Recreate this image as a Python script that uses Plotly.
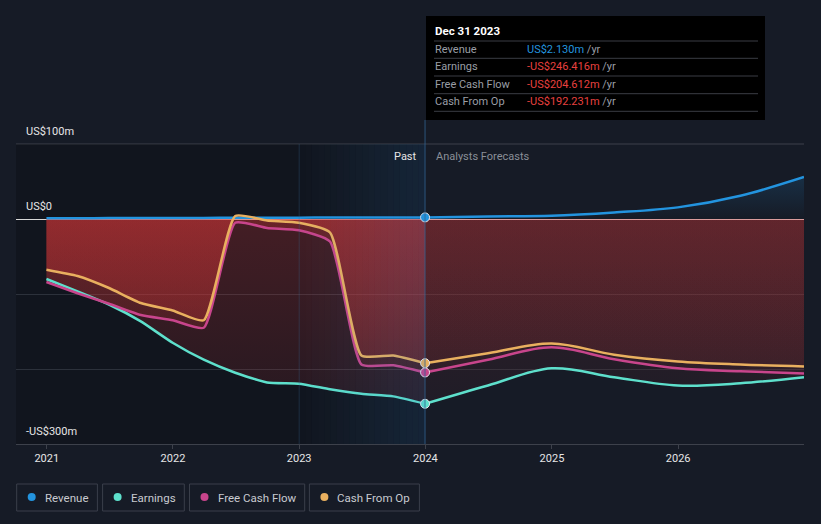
import plotly.graph_objects as go
import pandas as pd

# ---------------- data ----------------
past_dates = ['2020-12-31', '2021-03-31', '2021-06-30', '2021-09-30', '2021-12-31',
              '2022-03-31', '2022-06-30', '2022-09-30', '2022-12-31', '2023-03-31',
              '2023-06-30', '2023-09-30', '2023-12-31']
revenue_past = [1.0, 1.1, 1.2, 1.3, 1.4, 1.5, 1.6, 1.7, 1.8, 1.9, 2.0, 2.05, 2.13]
earnings_past = [-80, -96.5, -114, -136.5, -165, -187.6, -205, -218, -219.6, -227, -233, -236.5, -246.416]
fcf_past = [-84, -99, -113, -128, -135, -145, -5, -12, -15, -30, -194, -195, -204.612]
cfo_past = [-67.6, -76, -92, -112, -122, -135, 4, -2, -5, -18, -182, -182, -192.231]

fc_dates = ['2023-12-31', '2024-06-30', '2024-12-31', '2025-06-30', '2025-12-31', '2026-06-30', '2026-12-31']
revenue_fc = [2.13, 3.5, 4.4, 8.8, 15.5, 31, 56]
earnings_fc = [-246.416, -222, -199, -211, -222, -219, -211]
fcf_fc = [-204.612, -187.6, -171, -187, -199, -203, -206]
cfo_fc = [-192.231, -179, -166, -181, -190, -194, -196.5]

year_ticks = ['2021-01-01', '2022-01-01', '2023-01-01', '2024-01-01', '2025-01-01', '2026-01-01']
year_labels = ['2021', '2022', '2023', '2024', '2025', '2026']

tip_title = 'Dec 31 2023'
tip_rows = [('Revenue', 'US$2.130m', '#2394df'),
            ('Earnings', '-US$246.416m', '#e8403f'),
            ('Free Cash Flow', '-US$204.612m', '#e8403f'),
            ('Cash From Op', '-US$192.231m', '#e8403f')]

legend_items = [('Revenue', '#2394df'), ('Earnings', '#5ee0cc'),
                ('Free Cash Flow', '#c8458c'), ('Cash From Op', '#e9b05f')]

C_REV, C_EARN, C_FCF, C_CFO = '#2394df', '#5ee0cc', '#c8458c', '#e9b05f'

# ---------------- layout geometry ----------------
W, H = 821, 524
L, R, T, B = 16, 17, 120, 80
PW, PH = W - L - R, H - T - B
BG = '#161b26'
FONT = 'Roboto'


def px(xp):
    return (xp - L) / PW


def py(yp):
    return (H - B - yp) / PH


def red_grad(a_top, a_bot):
    return dict(type='vertical', start=-300, stop=0,
                colorscale=[[0, f'rgba(220,55,55,{a_bot})'], [1, f'rgba(220,55,55,{a_top})']])


fig = go.Figure()

# fills (drawn first)
fill_specs = [
    (past_dates, earnings_past, red_grad(0.25, 0.08), 0.5),
    (past_dates, fcf_past, red_grad(0.25, 0.05), 0.5),
    (past_dates, cfo_past, red_grad(0.35, 0.08), 0.5),
    (fc_dates, earnings_fc, red_grad(0.14, 0.03), 1.0),
    (fc_dates, fcf_fc, red_grad(0.14, 0.03), 1.0),
    (fc_dates, cfo_fc, red_grad(0.16, 0.03), 1.0),
]
for xs, ys, grad, sm in fill_specs:
    fig.add_trace(go.Scatter(x=xs, y=ys, mode='lines', line=dict(width=0, shape='spline', smoothing=sm),
                             fill='tozeroy', fillgradient=grad, hoverinfo='skip', showlegend=False))

for xs, ys, sm in [(past_dates, revenue_past, 0.5), (fc_dates, revenue_fc, 1.0)]:
    fig.add_trace(go.Scatter(x=xs, y=ys, mode='lines', line=dict(width=0, shape='spline', smoothing=sm),
                             fill='tozeroy',
                             fillgradient=dict(type='vertical', start=0, stop=60,
                                               colorscale=[[0, 'rgba(35,148,223,0.0)'], [1, 'rgba(35,148,223,0.18)']]),
                             hoverinfo='skip', showlegend=False))

# lines
for name, c, p, f in [('Revenue', C_REV, revenue_past, revenue_fc),
                      ('Earnings', C_EARN, earnings_past, earnings_fc),
                      ('Free Cash Flow', C_FCF, fcf_past, fcf_fc),
                      ('Cash From Op', C_CFO, cfo_past, cfo_fc)]:
    fig.add_trace(go.Scatter(x=past_dates, y=p, mode='lines', name=name,
                             line=dict(color=c, width=2.5, shape='spline', smoothing=0.5), showlegend=False))
    fig.add_trace(go.Scatter(x=fc_dates, y=f, mode='lines', name=name,
                             line=dict(color=c, width=2.5, shape='spline', smoothing=1.0), showlegend=False))

# markers at the last reported point
for c, p in [(C_REV, revenue_past), (C_EARN, earnings_past), (C_FCF, fcf_past), (C_CFO, cfo_past)]:
    fig.add_trace(go.Scatter(x=[past_dates[-1]], y=[p[-1]], mode='markers',
                             marker=dict(color=c, size=9, line=dict(color='#e8e8ee', width=1)),
                             showlegend=False, hoverinfo='skip'))

shapes = []
# darker past region
shapes.append(dict(type='rect', xref='x', yref='y', x0='2020-10-04', x1='2023-12-31', y0=-300, y1=100,
                   fillcolor='rgba(0,0,0,0.2)', line=dict(width=0), layer='below'))
# blue highlight band 2023-2024 (stepped gradient)
edges = pd.date_range('2023-01-01', '2023-12-31', periods=21)
for i in range(20):
    a = 0.15 * (i + 1) / 20
    shapes.append(dict(type='rect', xref='x', yref='y', x0=edges[i], x1=edges[i + 1], y0=-300, y1=100,
                       fillcolor=f'rgba(50,130,200,{a:.3f})', line=dict(width=0), layer='above'))
shapes.append(dict(type='line', xref='x', yref='y', x0='2023-01-01', x1='2023-01-01', y0=-300, y1=100,
                   line=dict(color='rgba(60,110,150,0.3)', width=1), layer='above'))
# top gridline
shapes.append(dict(type='line', xref='paper', yref='y', x0=0, x1=1, y0=100, y1=100,
                   line=dict(color='#3d414b', width=1), layer='below'))
# vertical line at the latest reported date
shapes.append(dict(type='line', xref='x', yref='paper', x0='2023-12-31', x1='2023-12-31', y0=0, y1=1,
                   line=dict(color='rgba(50,100,145,0.8)', width=1), layer='above'))

# tooltip box
shapes.append(dict(type='rect', xref='paper', yref='paper', x0=px(426), x1=px(765), y0=py(120), y1=py(16),
                   fillcolor='#000000', line=dict(width=0), layer='above'))
for sy in [41, 58.3, 76, 93.7, 111.3]:
    shapes.append(dict(type='line', xref='paper', yref='paper', x0=px(434), x1=px(758), y0=py(sy), y1=py(sy),
                       line=dict(color='#3a3d44', width=1), layer='above'))

# legend boxes
legend_boxes = [(16.7, 97.4), (102.6, 184.3), (189.5, 304.7), (309.4, 419.4)]
for (x0, x1), (lab, c) in zip(legend_boxes, legend_items):
    shapes.append(dict(type='rect', xref='paper', yref='paper', x0=px(x0), x1=px(x1), y0=py(511), y1=py(484),
                       fillcolor='rgba(0,0,0,0)', line=dict(color='#3a3f4a', width=1), layer='above'))
    shapes.append(dict(type='circle', xref='paper', yref='paper', x0=px(x0 + 11), x1=px(x0 + 19),
                       y0=py(501), y1=py(493), fillcolor=c, line=dict(width=0), layer='above'))

annotations = []
# y labels
for val, txt in [(100, 'US$100m'), (0, 'US$0'), (-300, '-US$300m')]:
    annotations.append(dict(xref='paper', yref='y', x=px(24), y=val, text=txt, showarrow=False,
                            xanchor='left', yanchor='bottom', yshift=4,
                            font=dict(family=FONT, size=11, color='#e6e6e6')))
annotations.append(dict(xref='paper', yref='paper', x=px(419), y=py(156), text='Past', showarrow=False,
                        xanchor='right', yanchor='middle', font=dict(family=FONT, size=11, color='#e6e6e6')))
annotations.append(dict(xref='paper', yref='paper', x=px(434), y=py(156), text='Analysts Forecasts',
                        showarrow=False, xanchor='left', yanchor='middle',
                        font=dict(family=FONT, size=11, color='#8a8f98')))
# tooltip text
annotations.append(dict(xref='paper', yref='paper', x=px(433), y=py(31), text='<b>' + tip_title + '</b>',
                        showarrow=False, xanchor='left', yanchor='middle',
                        font=dict(family=FONT, size=11.5, color='#ffffff')))
for (lab, val, c), ry in zip(tip_rows, [49.3, 66.7, 84.3, 101.7]):
    annotations.append(dict(xref='paper', yref='paper', x=px(433), y=py(ry), text=lab, showarrow=False,
                            xanchor='left', yanchor='middle', font=dict(family=FONT, size=11, color='#9a9ea6')))
    annotations.append(dict(xref='paper', yref='paper', x=px(525), y=py(ry),
                            text=f"<span style='color:{c}'>{val}</span> /yr", showarrow=False,
                            xanchor='left', yanchor='middle', font=dict(family=FONT, size=11, color='#9a9ea6')))
# legend text
for (x0, x1), (lab, c) in zip(legend_boxes, legend_items):
    annotations.append(dict(xref='paper', yref='paper', x=px(x0 + 26), y=py(497.5), text=lab, showarrow=False,
                            xanchor='left', yanchor='middle', font=dict(family=FONT, size=11.5, color='#c8cad0')))

fig.update_layout(
    width=W, height=H, margin=dict(l=L, r=R, t=T, b=B),
    paper_bgcolor=BG, plot_bgcolor=BG,
    font=dict(family=FONT, color='#e6e6e6'),
    showlegend=False,
    shapes=shapes, annotations=annotations,
    xaxis=dict(type='date', range=['2020-10-04', '2026-12-31'], tickvals=year_ticks, ticktext=year_labels,
               showgrid=False, zeroline=False, showline=True, linecolor='#3d414b', ticks='outside',
               ticklen=4, tickcolor='#3d414b', tickfont=dict(family=FONT, size=11, color='#e6e6e6'),
               fixedrange=True),
    yaxis=dict(range=[-300, 132], tickvals=[-200, -100], showticklabels=False, showgrid=True,
               gridcolor='#2c313b', zeroline=True, zerolinecolor='#d8d8d8', zerolinewidth=1,
               showline=False, fixedrange=True),
)

fig.write_html('out.html', config={'displayModeBar': False},
               post_script="document.body.style.margin='0';document.body.style.background='#161b26';")
